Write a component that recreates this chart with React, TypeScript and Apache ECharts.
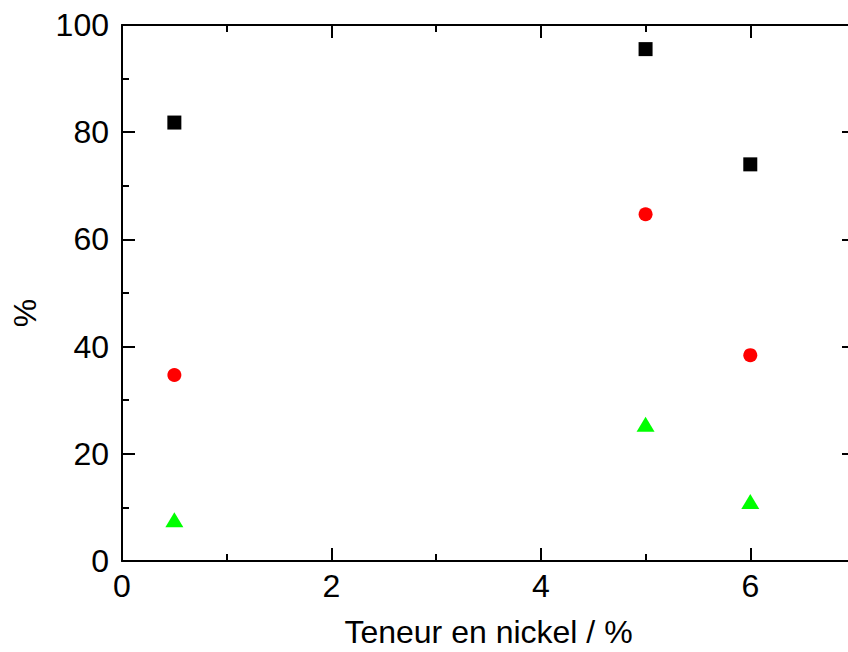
import React, { useEffect, useRef } from "react";
import * as echarts from "echarts";

const nickel = [0.5, 5, 6];
const seriesBlack = [81.8, 95.5, 74.0];
const seriesRed = [34.7, 64.7, 38.4];
const seriesGreen = [7.7, 25.5, 11.1];
const xTitle = "Teneur en nickel / %";
const yTitle = "%";

const FONT = "'Liberation Sans', Arial, sans-serif";

const pairs = (xs: number[], ys: number[]) => xs.map((x, i) => [x, ys[i]]);

export default function App() {
  const ref = useRef<HTMLDivElement>(null);
  useEffect(() => {
    document.body.style.margin = "0";
    if (!ref.current) return;
    const chart = echarts.init(ref.current, undefined, { renderer: "svg", width: 848, height: 652 });
    const line = { show: true, onZero: false, lineStyle: { color: "#000", width: 2 } };
    const noLine = { show: false, onZero: false };
    const majorTick = { show: true, inside: true, length: 13, lineStyle: { color: "#000", width: 2 } };
    const minorTickX = { show: true, inside: true, length: 7, lineStyle: { color: "#000", width: 2 } };
    const label = { color: "#000", fontSize: 32, fontFamily: FONT };
    chart.setOption({
      animation: false,
      backgroundColor: "#fff",
      grid: { left: 122, top: 25, width: 733, height: 536, outerBoundsMode: "none", containLabel: false },
      xAxis: [
        {
          type: "value", position: "bottom", min: 0, max: 7, interval: 2,
          axisLine: line, axisTick: majorTick,
          axisLabel: { ...label, margin: 9, showMaxLabel: false },
          splitLine: { show: false },
          name: xTitle, nameLocation: "middle", nameGap: 56,
          nameTextStyle: { color: "#000", fontSize: 32, lineHeight: 30, fontFamily: FONT },
        },
        {
          type: "value", position: "bottom", min: 0, max: 7, interval: 1,
          axisLine: noLine, axisTick: minorTickX,
          axisLabel: { show: false }, splitLine: { show: false },
        },
        {
          type: "value", position: "top", min: 0, max: 7, interval: 2,
          axisLine: line, axisTick: majorTick,
          axisLabel: { show: false }, splitLine: { show: false },
        },
        {
          type: "value", position: "top", min: 0, max: 7, interval: 1,
          axisLine: noLine, axisTick: minorTickX,
          axisLabel: { show: false }, splitLine: { show: false },
        },
      ],
      yAxis: [
        {
          type: "value", position: "left", min: 0, max: 100, interval: 20,
          axisLine: line, axisTick: majorTick,
          minorTick: { show: true, splitNumber: 2, length: 7, lineStyle: { color: "#000", width: 2 } },
          axisLabel: { ...label, margin: 13 },
          splitLine: { show: false }, minorSplitLine: { show: false },
        },
        {
          type: "value", position: "right", min: 0, max: 100, interval: 20,
          axisLine: line, axisTick: majorTick,
          minorTick: { show: true, splitNumber: 2, length: 7, lineStyle: { color: "#000", width: 2 } },
          axisLabel: { show: false },
          splitLine: { show: false }, minorSplitLine: { show: false },
        },
      ],
      graphic: [
        {
          type: "text", x: 25, y: 313, rotation: Math.PI / 2,
          style: {
            text: yTitle, fill: "#000", font: `32px ${FONT}`,
            textAlign: "center", textVerticalAlign: "middle",
          },
        },
      ],
      series: [
        {
          type: "scatter", data: pairs(nickel, seriesBlack),
          symbol: "rect", symbolSize: 14, itemStyle: { color: "#000", opacity: 1 },
        },
        {
          type: "scatter", data: pairs(nickel, seriesRed),
          symbol: "circle", symbolSize: 14, itemStyle: { color: "#ff0000", opacity: 1 },
        },
        {
          type: "scatter", data: pairs(nickel, seriesGreen),
          symbol: "triangle", symbolSize: [18, 15], itemStyle: { color: "#00ff00", opacity: 1 },
        },
      ],
    });
    return () => chart.dispose();
  }, []);
  return <div ref={ref} style={{ width: 848, height: 652 }} />;
}
